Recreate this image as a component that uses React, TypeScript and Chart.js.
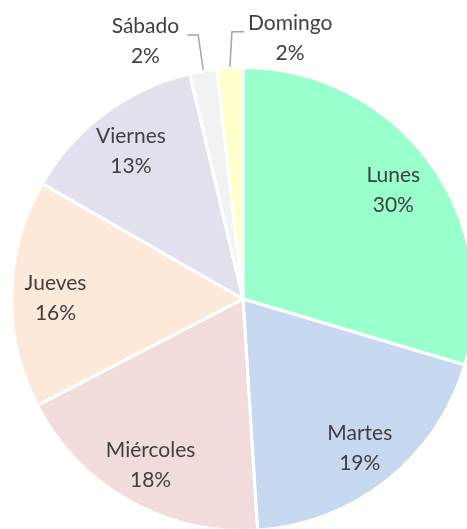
import React, { useEffect, useRef } from 'react';
import { Chart, registerables } from 'chart.js';

Chart.register(...registerables);

const days = ['Lunes', 'Martes', 'Miércoles', 'Jueves', 'Viernes', 'Sábado', 'Domingo'];
const shares = [29.6, 19.4, 18.4, 15.9, 13.0, 1.9, 1.8];
const percentLabels = ['30%', '19%', '18%', '16%', '13%', '2%', '2%'];
const sliceColors = ['#99FFCC', '#C6D9F1', '#F2DCDB', '#FDE9D9', '#E4DFEC', '#F2F2F2', '#FFFFCC'];

const FONT = '21px Lato, "Open Sans", sans-serif';
const TEXT_COLOR = '#404040';

const labelPlugin = {
  id: 'sliceLabels',
  afterDatasetsDraw(chart: any) {
    const ctx = chart.ctx as CanvasRenderingContext2D;
    const meta = chart.getDatasetMeta(0);
    ctx.save();
    ctx.font = FONT;
    ctx.fillStyle = TEXT_COLOR;
    ctx.textAlign = 'center';
    ctx.textBaseline = 'middle';
    meta.data.forEach((arc: any, i: number) => {
      const { x, y, startAngle, endAngle, outerRadius } = arc.getProps(
        ['x', 'y', 'startAngle', 'endAngle', 'outerRadius'],
        true
      );
      const mid = (startAngle + endAngle) / 2;
      if (i < 5) {
        const r = outerRadius * 0.81;
        const cx = x + Math.cos(mid) * r;
        const cy = y + Math.sin(mid) * r + 3;
        ctx.fillText(days[i], cx, cy - 15);
        ctx.fillText(percentLabels[i], cx, cy + 15);
      } else {
        const px = x + Math.cos(mid) * outerRadius;
        const py = y + Math.sin(mid) * outerRadius;
        const toLeft = i === 5;
        const elbowX = toLeft ? px - 5 : px + 2;
        const elbowY = py - 36;
        const endX = toLeft ? px - 16 : px + 14;
        ctx.save();
        ctx.strokeStyle = '#A6A6A6';
        ctx.lineWidth = 1.5;
        ctx.beginPath();
        ctx.moveTo(px, py - 1);
        ctx.lineTo(elbowX, elbowY);
        ctx.lineTo(endX, elbowY);
        ctx.stroke();
        ctx.restore();
        const w = Math.max(ctx.measureText(days[i]).width, ctx.measureText(percentLabels[i]).width);
        const gap = toLeft ? 8 : 4;
        const tx = toLeft ? endX - gap - w / 2 : endX + gap + w / 2;
        ctx.fillText(days[i], tx, elbowY - 9);
        ctx.fillText(percentLabels[i], tx, elbowY + 21);
      }
    });
    ctx.restore();
  },
};

export default function App() {
  const canvasRef = useRef<HTMLCanvasElement | null>(null);

  useEffect(() => {
    if (!canvasRef.current) return;
    const chart = new Chart(canvasRef.current, {
      type: 'pie',
      data: {
        labels: days,
        datasets: [
          {
            data: shares,
            backgroundColor: sliceColors,
            borderColor: '#FFFFFF',
            borderWidth: 3,
          },
        ],
      },
      options: {
        responsive: false,
        animation: false,
        layout: { padding: { top: 66, left: 10, right: 10, bottom: 0 } },
        plugins: {
          legend: { display: false },
          tooltip: { enabled: false },
          title: { display: false },
        },
      },
      plugins: [labelPlugin],
    });
    return () => chart.destroy();
  }, []);

  return (
    <div
      style={{
        position: 'fixed',
        left: 0,
        top: 0,
        width: 467,
        height: 529,
        overflow: 'hidden',
        background: '#FFFFFF',
      }}
    >
      <canvas ref={canvasRef} width={486} height={532} style={{ display: 'block', width: 486, height: 532 }} />
    </div>
  );
}
